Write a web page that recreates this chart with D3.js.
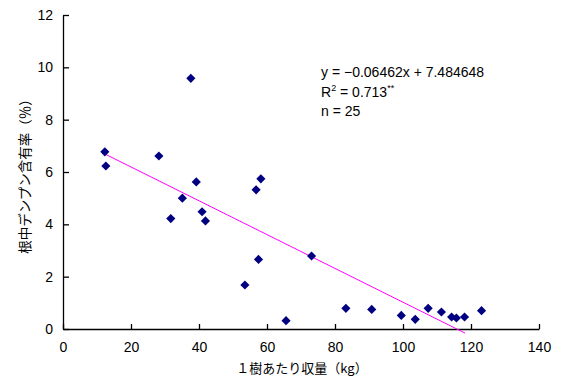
<!DOCTYPE html>
<html>
<head>
<meta charset="utf-8">
<script src="https://cdn.jsdelivr.net/npm/d3@7"></script>
<style>
  body { margin: 0; background: #fff; }
  svg { display: block; }
</style>
</head>
<body>
<div id="chart"></div>
<script>
"use strict";

// yield per tree (kg) and root starch content (%)
const yieldKg = [12.3, 12.6, 28.2, 37.6, 39.2, 35.1, 31.7, 40.9, 41.9, 56.8, 58.2, 57.5, 53.5, 65.6,
    73.1, 83.2, 90.8, 99.5, 103.6, 107.4, 111.3, 114.3, 115.7, 118.1, 123.1];
const starch = [6.77, 6.23, 6.61, 9.58, 5.62, 5.0, 4.22, 4.48, 4.13, 5.32, 5.74, 2.66, 1.68, 0.32,
    2.79, 0.79, 0.75, 0.52, 0.37, 0.79, 0.65, 0.46, 0.42, 0.46, 0.70];

const slope = -0.06462, intercept = 7.484648;
const fitRange = [12.3, 118.3];

const xTicks = [0, 20, 40, 60, 80, 100, 120, 140];
const yTicks = [0, 2, 4, 6, 8, 10, 12];

const width = 567, height = 383;
const margin = { left: 63, right: 28, top: 15, bottom: 54 };

const svg = d3.select("#chart").append("svg")
    .attr("width", width)
    .attr("height", height);

const x = d3.scaleLinear()
    .domain([0, 140])
    .range([margin.left, width - margin.right]);

const y = d3.scaleLinear()
    .domain([0, 12])
    .range([height - margin.bottom, margin.top]);

const font = "'Liberation Sans', Arial, sans-serif";

// x axis, ticks pointing inward
svg.append("g")
    .attr("transform", `translate(0,${y(0)})`)
    .call(d3.axisBottom(x).tickValues(xTicks).tickSizeInner(-5).tickSizeOuter(0).tickPadding(13))
    .call(g => g.select(".domain").attr("stroke-width", 1.3))
    .call(g => g.selectAll(".tick line").attr("stroke-width", 1.3))
    .call(g => g.selectAll("text").attr("font-family", font).attr("font-size", 14).attr("fill", "#000"));

// y axis
svg.append("g")
    .attr("transform", `translate(${x(0)},0)`)
    .call(d3.axisLeft(y).tickValues(yTicks).tickSizeInner(-6).tickSizeOuter(0).tickPadding(10))
    .call(g => g.select(".domain").attr("stroke-width", 1.3))
    .call(g => g.selectAll(".tick line").attr("stroke-width", 1.3))
    .call(g => g.selectAll("text").attr("font-family", font).attr("font-size", 14).attr("fill", "#000"));

// regression line
const line = d3.line()
    .x(d => x(d))
    .y(d => y(slope * d + intercept));

svg.append("path")
    .datum(fitRange)
    .attr("fill", "none")
    .attr("stroke", "#ff00ff")
    .attr("stroke-width", 1)
    .attr("d", line);

// points as diamonds
svg.append("g")
    .attr("fill", "#000080")
    .selectAll("path")
    .data(d3.range(yieldKg.length))
    .join("path")
    .attr("d", d3.symbol(d3.symbolSquare, 42))
    .attr("transform", i => `translate(${x(yieldKg[i])},${y(starch[i])}) rotate(45)`);

// equation
const eq = svg.append("g")
    .attr("font-family", font)
    .attr("font-size", 14)
    .attr("fill", "#000");

eq.append("text").attr("x", 321).attr("y", 77).text("y = \u22120.06462x + 7.484648");
const r2 = eq.append("text").attr("x", 321).attr("y", 97);
r2.append("tspan").text("R");
r2.append("tspan").attr("font-size", 9).attr("dy", -6).text("2");
r2.append("tspan").attr("dy", 6).text(" = 0.713");
r2.append("tspan").attr("font-size", 9).attr("dy", -6).text("**");
eq.append("text").attr("x", 321).attr("y", 116).text("n = 25");

// axis titles
const jpFont = "'Noto Sans CJK JP', sans-serif";

svg.append("text")
    .attr("x", 302)
    .attr("y", 373)
    .attr("text-anchor", "middle")
    .attr("font-family", jpFont)
    .attr("font-size", 13)
    .text("１樹あたり収量（kg）");

svg.append("text")
    .attr("transform", `translate(25,173) rotate(-90)`)
    .attr("text-anchor", "middle")
    .attr("dy", "0.35em")
    .attr("font-family", jpFont)
    .attr("font-size", 13.5)
    .text("根中デンプン含有率（％）");
</script>
</body>
</html>
